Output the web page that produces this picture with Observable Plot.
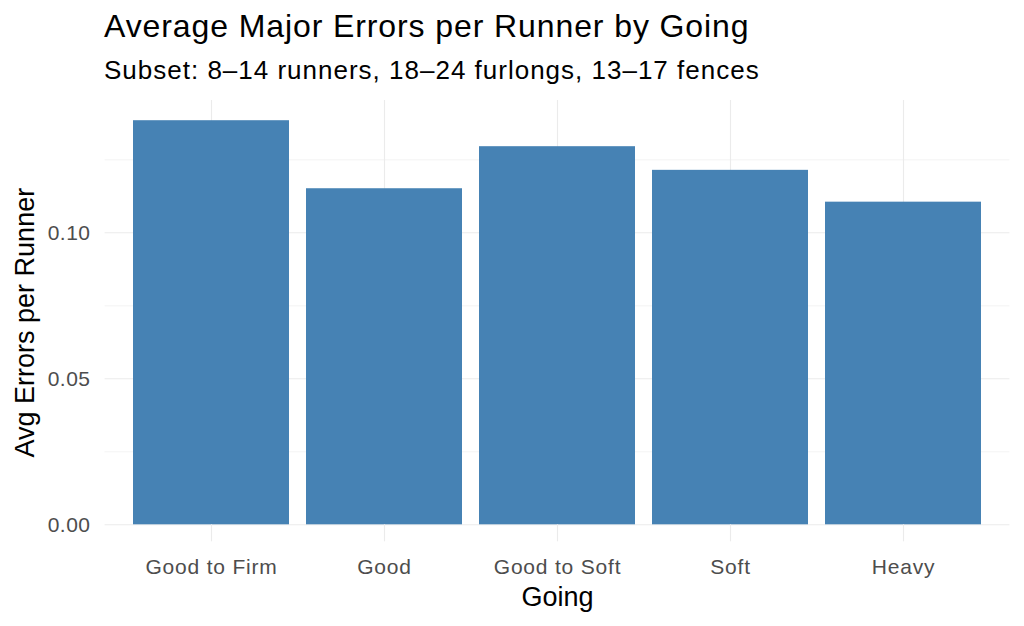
<!DOCTYPE html>
<html>
<head>
<meta charset="utf-8">
<script src="https://cdn.jsdelivr.net/npm/d3@7"></script>
<script src="https://cdn.jsdelivr.net/npm/@observablehq/plot@0.6"></script>
<style>
  html, body { margin: 0; padding: 0; background: #fff; }
  body { width: 1024px; height: 626px; overflow: hidden; font-family: "Liberation Sans", Arial, sans-serif; }
  #header { position: relative; height: 90px; width: 1024px; }
  #title { position: absolute; left: 104px; top: 10.2px; font-size: 32px; line-height: 1; color: #000; letter-spacing: 0.9px; white-space: nowrap; }
  #subtitle { position: absolute; left: 104px; top: 57px; font-size: 26px; line-height: 1; color: #000; letter-spacing: 1px; white-space: nowrap; }
  #chart svg { display: block; }
  g[aria-label="x-axis tick label"] text { letter-spacing: 0.8px; }
  g[aria-label="y-axis tick label"] text { letter-spacing: 0.5px; }
  g[aria-label="xtitle"] text { letter-spacing: 0.6px; }
  g[aria-label="ytitle"] text { letter-spacing: 0.7px; }
</style>
</head>
<body>
<div id="header">
  <div id="title">Average Major Errors per Runner by Going</div>
  <div id="subtitle">Subset: 8–14 runners, 18–24 furlongs, 13–17 fences</div>
</div>
<div id="chart"></div>
<script>
const goings = ["Good to Firm", "Good", "Good to Soft", "Soft", "Heavy"];
const avgErrors = [0.1384, 0.1151, 0.1295, 0.1214, 0.1105];
const yMajorTicks = [0, 0.05, 0.10];
const yMinorTicks = [0.025, 0.075, 0.125];
const xTitle = "Going";
const yTitle = "Avg Errors per Runner";

const data = goings.map((g, i) => ({going: g, value: avgErrors[i]}));
const yMax = d3.max(avgErrors) * 1.05;

const chart = Plot.plot({
  width: 1024,
  height: 536,
  marginTop: 10,
  marginBottom: 101.7,
  marginLeft: 104.6,
  marginRight: 14.6,
  style: {fontFamily: "'Liberation Sans', Arial, sans-serif", background: "#fff", color: "#000"},
  x: {type: "band", domain: goings, paddingInner: 0.1, paddingOuter: 0.15, align: 0.5, label: null},
  y: {domain: [0, yMax], label: null},
  marks: [
    Plot.ruleY(yMinorTicks, {stroke: "#ebebeb", strokeWidth: 0.6}),
    Plot.ruleY(yMajorTicks, {stroke: "#ebebeb", strokeWidth: 1.1}),
    Plot.ruleX(goings, {x: d => d, stroke: "#ebebeb", strokeWidth: 1.1}),
    Plot.barY(data, {x: "going", y: "value", fill: "#4682b4"}),
    Plot.axisX({tickSize: 17, tickPadding: 17, fontSize: 21, stroke: "#ebebeb", strokeWidth: 1.1, fill: "#4d4d4d", label: null}),
    Plot.axisY(yMajorTicks, {tickSize: 0, tickPadding: 14.6, fontSize: 21, fill: "#4d4d4d", tickFormat: d3.format(".2f"), label: null}),
    Plot.text([xTitle], {frameAnchor: "bottom", text: d => d, textAnchor: "middle", lineAnchor: "bottom", dy: 80.7, fontSize: 27, fill: "#000", ariaLabel: "xtitle"}),
    Plot.text([yTitle], {frameAnchor: "left", text: d => d, textAnchor: "middle", lineAnchor: "bottom", rotate: -90, dx: -71.3, dy: 10, fontSize: 27, fill: "#000", ariaLabel: "ytitle"})
  ]
});
document.getElementById("chart").appendChild(chart);
</script>
</body>
</html>
